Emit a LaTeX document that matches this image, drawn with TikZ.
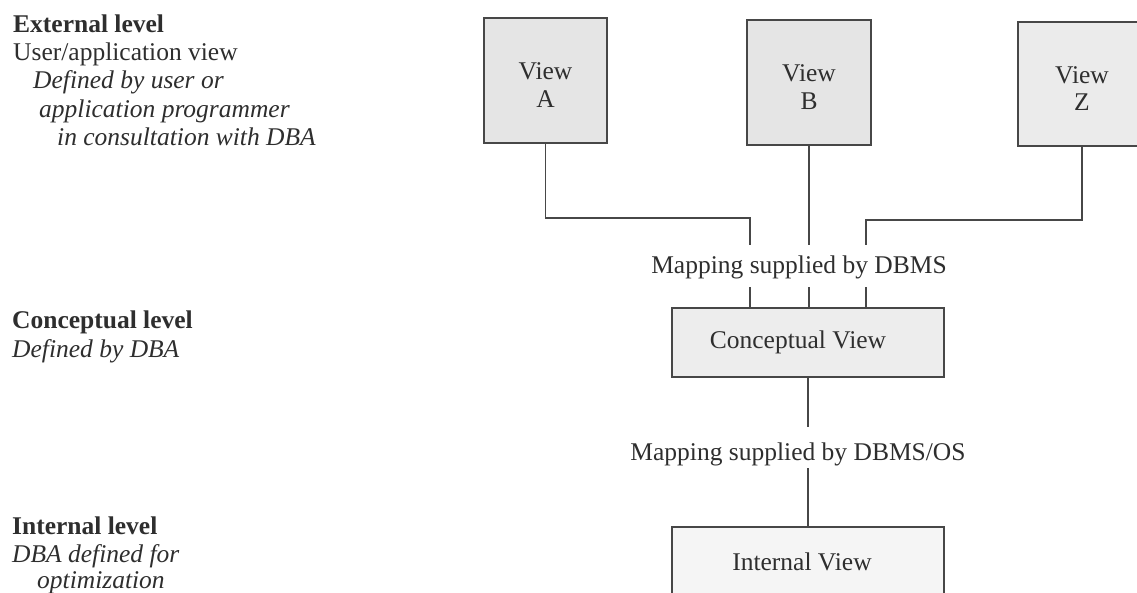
\documentclass[tikz,border=0pt]{standalone}
\usepackage{fontspec}
\setmainfont{Liberation Serif}
\begin{document}
\begin{tikzpicture}[x=1pt,y=-1pt,
  every node/.style={text=black!82, font=\fontsize{25.5}{27.5}\selectfont},
  viewbox/.style={draw=black!72, line width=1.8pt, fill=black!10, align=center, inner sep=0pt},
  lvlbox/.style={draw=black!72, line width=1.8pt, fill=black!7, inner sep=0pt},
  conn/.style={draw=black!72, line width=1.6pt},
  lefttext/.style={anchor=base west, inner sep=0pt},
  maplabel/.style={inner xsep=0pt}
]
\useasboundingbox (0,0) rectangle (1137,592);
\clip (0,0) rectangle (1137,592);
\fill[white] (0,0) rectangle (1137,592);

% left descriptions
\node[lefttext] (t1) at (13,32) {\textbf{External level}};
\node[lefttext] (t2) at (13,60) {User/application view};
\node[lefttext] (t3) at (33,88) {\itshape Defined by user or};
\node[lefttext] (t4) at (39,117) {\itshape application programmer};
\node[lefttext] (t5) at (57,145) {\itshape in consultation with DBA};
\node[lefttext] (t6) at (12,328) {\textbf{Conceptual level}};
\node[lefttext] (t7) at (12,357) {\itshape Defined by DBA};
\node[lefttext] (t8) at (12,534) {\textbf{Internal level}};
\node[lefttext] (t9) at (12,562) {\itshape DBA defined for};
\node[lefttext] (t10) at (37,588) {\itshape optimization};

% boxes
\node[viewbox, minimum width=123pt, minimum height=125pt] (A) at (545.5,80.5) {\rule{0pt}{26pt}View\\A};
\node[viewbox, minimum width=124pt, minimum height=125pt] (B) at (809,82.5) {\rule{0pt}{26pt}View\\B};
\node[viewbox, minimum width=128pt, minimum height=124pt, fill=black!8] (Z) at (1082,84) {\rule{0pt}{26pt}View\\Z};
\node[lvlbox, minimum width=272pt, minimum height=69pt] (C) at (808,342.5) {\hspace*{-20pt}Conceptual View};
\node[lvlbox, minimum width=272pt, minimum height=69pt, fill=black!4] (I) at (808,561.5) {\hspace*{-12pt}Internal View};

% mapping labels
\node[maplabel, inner ysep=4pt, text height=24pt, text depth=10pt, anchor=base] (m1) at (799,273) {Mapping supplied by DBMS};
\node[maplabel, inner ysep=2pt, text height=31pt, text depth=6pt, anchor=base] (m2) at (798,460) {Mapping supplied by DBMS/OS};

% junctions
\coordinate (ja) at (750,218);
\coordinate (jz) at (866,220);

% connectors
\draw[conn] (A.south) |- (ja) -- (ja |- m1.north);
\draw[conn] (B.south) -- (B.south |- m1.north);
\draw[conn] (Z.south) |- (jz) -- (jz |- m1.north);
\draw[conn] (ja |- m1.south) -- (ja |- C.north);
\draw[conn] (B.south |- m1.south) -- (B.south |- C.north);
\draw[conn] (jz |- m1.south) -- (jz |- C.north);
\draw[conn] (C.south) -- (C.south |- m2.north);
\draw[conn] (C.south |- m2.south) -- (I.north);
\end{tikzpicture}
\end{document}
